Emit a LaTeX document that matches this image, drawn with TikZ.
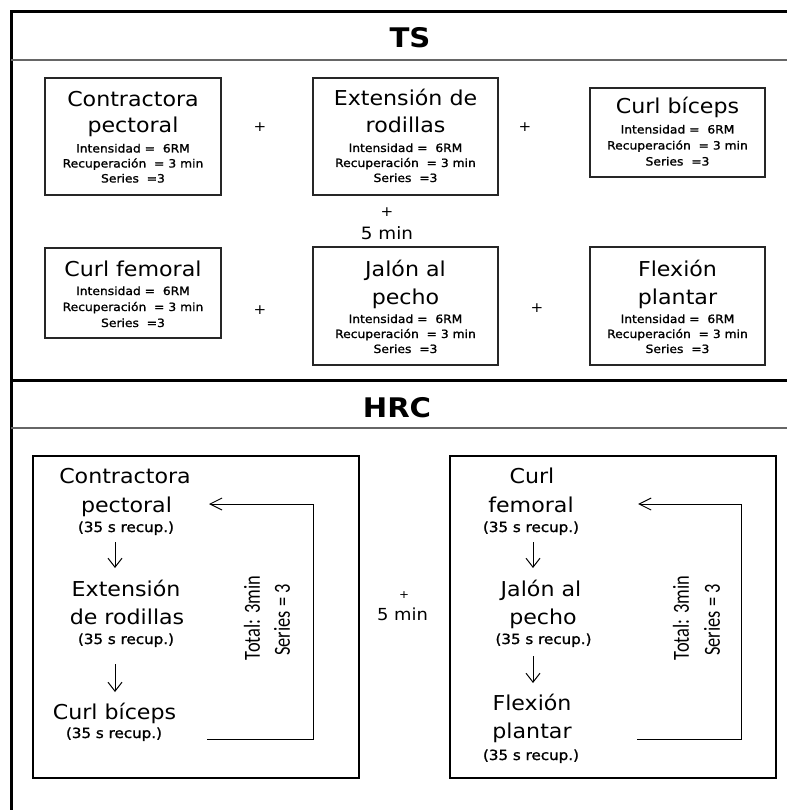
\documentclass[tikz,border=0pt]{standalone}
\usepackage{fontspec}
\setmainfont{DejaVu Sans}[FakeStretch=1.08]
\newfontfamily\smfont{DejaVu Sans}[FakeStretch=1.08, FakeBold=1.3]
\newfontfamily\calfont{Carlito}[FakeStretch=0.8]
\usetikzlibrary{arrows.meta}
\begin{document}
\begin{tikzpicture}[x=1pt,y=-1pt]
\tikzset{
 big/.style={font=\fontsize{20.5}{24}\selectfont, anchor=base, inner sep=0},
 small/.style={font=\smfont\fontsize{11.4}{13}\selectfont, anchor=base, inner sep=0},
 rec/.style={font=\smfont\fontsize{14}{16}\selectfont, anchor=base, inner sep=0},
 title/.style={font=\fontsize{27}{30}\selectfont\bfseries, anchor=base, inner sep=0},
 plus/.style={font=\fontsize{14}{16}\selectfont, inner sep=0},
 mins/.style={font=\fontsize{17}{20}\selectfont, anchor=base, inner sep=0},
 tsbox/.style={draw=black!85, line width=1.4pt, inner sep=0},
 hrcbox/.style={draw=black, line width=2.8pt, inner sep=0},
 framel/.style={line width=3pt},
 sepl/.style={draw=black!60, line width=1.4pt},
 vert/.style={font=\calfont\fontsize{23}{26}\selectfont, rotate=90, inner sep=0},
 flow/.style={line width=1pt, -{Straight Barb[length=9pt,width=14pt]}},
 loopl/.style={line width=1pt, -{Straight Barb[length=12pt,width=12pt]}},
}
\useasboundingbox (0,0) rectangle (787,810);
% frame
\draw[framel] (11,810) -- (11,12) -- (787,12);
\draw[framel] (11,380) -- (787,380);
\draw[sepl] (11,60) -- (787,60);
\draw[sepl] (11,428) -- (787,428);
\node[title] (ts) at (410,48) {TS};
\node[title] (hrc) at (397,417) {HRC};
% TS boxes
\node[tsbox, minimum width=176pt, minimum height=117pt] (b1) at (133,136.5) {};
\node[tsbox, minimum width=185pt, minimum height=117pt] (b2) at (405.5,136.5) {};
\node[tsbox, minimum width=175pt, minimum height=89pt] (b3) at (677.5,132.5) {};
\node[tsbox, minimum width=176pt, minimum height=90pt] (b4) at (133,293) {};
\node[tsbox, minimum width=185pt, minimum height=118pt] (b5) at (405.5,306) {};
\node[tsbox, minimum width=175pt, minimum height=118pt] (b6) at (677.5,306) {};
% box 1
\node[big] (b1t1) at (133,106.5) {Contractora};
\node[big] (b1t2) at (133,133) {pectoral};
\node[small] (b1s1) at (133,152.5) {Intensidad =~ 6RM};
\node[small] (b1s2) at (133,167.5) {Recuperación~ = 3 min};
\node[small] (b1s3) at (133,182.5) {Series~ =3};
% box 2
\node[big] (b2t1) at (405.5,105.5) {Extensión de};
\node[big] (b2t2) at (405.5,133) {rodillas};
\node[small] (b2s1) at (405.5,152) {Intensidad =~ 6RM};
\node[small] (b2s2) at (405.5,167) {Recuperación~ = 3 min};
\node[small] (b2s3) at (405.5,182) {Series~ =3};
% box 3
\node[big] (b3t1) at (677.5,114) {Curl bíceps};
\node[small] (b3s1) at (677.5,133.5) {Intensidad =~ 6RM};
\node[small] (b3s2) at (677.5,149.5) {Recuperación~ = 3 min};
\node[small] (b3s3) at (677.5,165.5) {Series~ =3};
% box 4
\node[big] (b4t1) at (133,276) {Curl femoral};
\node[small] (b4s1) at (133,295) {Intensidad =~ 6RM};
\node[small] (b4s2) at (133,311) {Recuperación~ = 3 min};
\node[small] (b4s3) at (133,327) {Series~ =3};
% box 5
\node[big] (b5t1) at (405.5,276) {Jalón al};
\node[big] (b5t2) at (405.5,304) {pecho};
\node[small] (b5s1) at (405.5,323) {Intensidad =~ 6RM};
\node[small] (b5s2) at (405.5,338) {Recuperación~ = 3 min};
\node[small] (b5s3) at (405.5,353) {Series~ =3};
% box 6
\node[big] (b6t1) at (677.5,276) {Flexión};
\node[big] (b6t2) at (677.5,304) {plantar};
\node[small] (b6s1) at (677.5,323) {Intensidad =~ 6RM};
\node[small] (b6s2) at (677.5,338) {Recuperación~ = 3 min};
\node[small] (b6s3) at (677.5,353) {Series~ =3};
% pluses
\node[plus] (p1) at (260,127) {+};
\node[plus] (p2) at (525,127) {+};
\node[plus] (p3) at (387,212) {+};
\node[mins] (m1) at (387,240) {5 min};
\node[plus] (p4) at (260,310) {+};
\node[plus] (p5) at (537,308) {+};
% HRC boxes
\node[hrcbox, minimum width=326pt, minimum height=322pt] (hl) at (196,617) {};
\node[hrcbox, minimum width=326pt, minimum height=322pt] (hr) at (613,617) {};
% left texts
\node[big] (l1a) at (125,483) {Contractora};
\node[big] (l1b) at (126.5,512) {pectoral};
\node[rec] (l1r) at (126,532) {(35 s recup.)};
\node[big] (l2a) at (126,596) {Extensión};
\node[big] (l2b) at (127,624) {de rodillas};
\node[rec] (l2r) at (126,644) {(35 s recup.)};
\node[big] (l3a) at (114.5,719) {Curl bíceps};
\node[rec] (l3r) at (114,738) {(35 s recup.)};
% right texts
\node[big] (r1a) at (532,483) {Curl};
\node[big] (r1b) at (531,512) {femoral};
\node[rec] (r1r) at (531,532) {(35 s recup.)};
\node[big] (r2a) at (541,596) {Jalón al};
\node[big] (r2b) at (543,624) {pecho};
\node[rec] (r2r) at (543.5,644) {(35 s recup.)};
\node[big] (r3a) at (532,710) {Flexión};
\node[big] (r3b) at (532,738) {plantar};
\node[rec] (r3r) at (531,760) {(35 s recup.)};
% rotated labels
\node[vert] (lt) at (252,618) {Total: 3min};
\node[vert] (ls) at (282,620) {Series = 3};
\node[vert] (rt) at (681,618) {Total: 3min};
\node[vert] (rs) at (712,620) {Series = 3};
% middle
\node[font=\fontsize{11}{13}\selectfont, inner sep=0] (p6) at (404,595) {+};
\node[font=\fontsize{16.6}{19}\selectfont, anchor=base, inner sep=0] (m2) at (402.5,620) {5 min};
% arrow coordinates
\coordinate (a1s) at (115,542); \coordinate (a1e) at (115,568);
\coordinate (a2s) at (115,664); \coordinate (a2e) at (115,692);
\coordinate (a3s) at (533,542); \coordinate (a3e) at (533,568);
\coordinate (a4s) at (533,656); \coordinate (a4e) at (533,683);
\draw[flow] (a1s) -- (a1e);
\draw[flow] (a2s) -- (a2e);
\draw[flow] (a3s) -- (a3e);
\draw[flow] (a4s) -- (a4e);
\coordinate (lls) at (207,739); \coordinate (lle) at (209,504);
\coordinate (rls) at (637,739); \coordinate (rle) at (638,504);
\draw[loopl] (lls) -- (313,739) -- (313,504) -- (lle);
\draw[loopl] (rls) -- (741,739) -- (741,504) -- (rle);
\end{tikzpicture}
\end{document}
